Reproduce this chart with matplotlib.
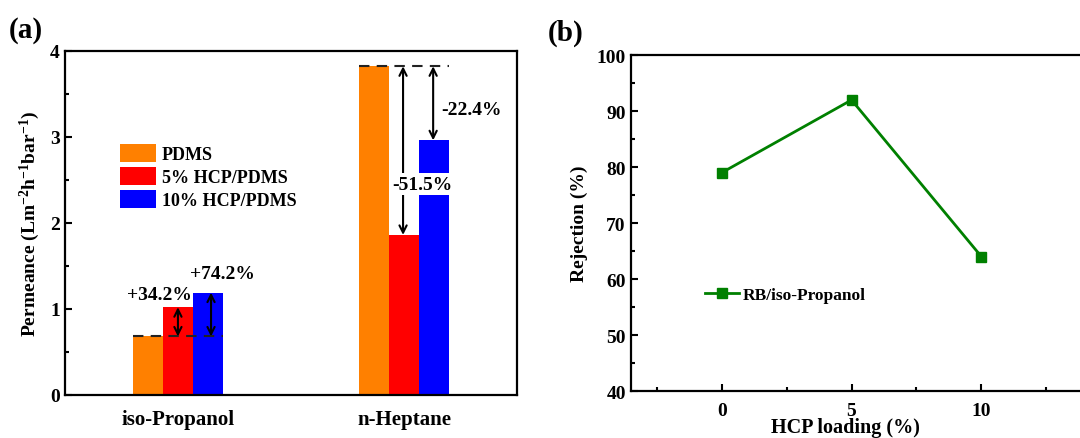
import numpy as np
import matplotlib.pyplot as plt
from matplotlib.patches import Patch

plt.rcParams['font.family'] = ['Liberation Serif', 'DejaVu Serif']
plt.rcParams['font.weight'] = 'bold'
plt.rcParams['axes.labelweight'] = 'bold'
plt.rcParams['mathtext.fontset'] = 'custom'
plt.rcParams['mathtext.rm'] = 'Liberation Serif:bold'
plt.rcParams['mathtext.bf'] = 'Liberation Serif:bold'
plt.rcParams['mathtext.default'] = 'bf'

# panel (a) data
solvents = ['iso-Propanol', 'n-Heptane']
membranes = ['PDMS', '5% HCP/PDMS', '10% HCP/PDMS']
permeance = {
    'PDMS': [0.68, 3.82],
    '5% HCP/PDMS': [1.02, 1.86],
    '10% HCP/PDMS': [1.19, 2.96],
}
bar_colors = ['#FF8000', '#FF0000', '#0000FF']
changes_iso = ['+34.2%', '+74.2%']
changes_hep = ['-51.5%', '-22.4%']

# panel (b) data
hcp_loading = [0, 5, 10]
rejection = [79, 92, 64]

fig = plt.figure(figsize=(10.8, 4.39), dpi=100)

# ---------- (a) ----------
ax = fig.add_axes([0.060, 0.098, 0.419, 0.784])
x = np.arange(1, len(solvents) + 1)
w = 0.133
for i, (m, c) in enumerate(zip(membranes, bar_colors)):
    ax.bar(x + (i - 1) * w, permeance[m], width=w, color=c, zorder=2)

base = permeance['PDMS']
# dashed reference lines
for j in range(2):
    ax.plot([x[j] - 1.5 * w, x[j] + 1.5 * w], [base[j], base[j]], ls=(0, (5, 3.5)),
            color='#222222', lw=1.5, zorder=3)

arrow = dict(arrowstyle='<->', lw=1.5, color='black', shrinkA=0, shrinkB=0, mutation_scale=13)
# iso-Propanol arrows
for i, m in enumerate(membranes[1:]):
    xa = x[0] + i * w + (0.0 if i == 0 else 0.1 * w)
    ax.annotate('', xy=(xa, permeance[m][0]), xytext=(xa, base[0]), arrowprops=arrow, zorder=4)
ax.text(x[0] - 0.08, 1.17, changes_iso[0], ha='center', va='center', fontsize=14, zorder=5)
ax.text(x[0] + 0.195, 1.41, changes_iso[1], ha='center', va='center', fontsize=14, zorder=5)

# n-Heptane arrows
ax.annotate('', xy=(x[1] - 0.005, permeance['5% HCP/PDMS'][1]), xytext=(x[1] - 0.005, base[1]),
            arrowprops=arrow, zorder=4)
ax.annotate('', xy=(x[1] + 0.128, permeance['10% HCP/PDMS'][1]), xytext=(x[1] + 0.128, base[1]),
            arrowprops=arrow, zorder=4)
ax.text(x[1] + 0.08, 2.45, changes_hep[0], ha='center', va='center', fontsize=14, zorder=6,
        bbox=dict(facecolor='white', edgecolor='none', pad=2))
ax.text(x[1] + 0.165, 3.32, changes_hep[1], ha='left', va='center', fontsize=14, zorder=6)

ax.set_xlim(0.5, 2.5)
ax.set_ylim(0, 4)
ax.set_xticks(x)
ax.set_xticklabels(solvents, fontsize=15)
ax.set_yticks([0, 1, 2, 3, 4])
ax.set_yticks([0.5, 1.5, 2.5, 3.5], minor=True)
ax.tick_params(axis='y', which='major', direction='in', length=5, width=1.5, labelsize=14)
ax.tick_params(axis='y', which='minor', direction='in', length=3, width=1.5)
ax.tick_params(axis='x', length=0, pad=10)
ax.set_ylabel('Permeance (Lm$^{-2}$h$^{-1}$bar$^{-1}$)', fontsize=14, labelpad=6)
for s in ax.spines.values():
    s.set_linewidth(1.6)

handles = [Patch(facecolor=c, edgecolor='none') for c in bar_colors]
ax.legend(handles, membranes, loc='upper left', bbox_to_anchor=(0.122, 0.728), frameon=False,
          fontsize=13, handlelength=2.0, handleheight=1.15, handletextpad=0.3, labelspacing=0.2,
          borderaxespad=0, borderpad=0)
fig.text(0.008, 0.93, '(a)', fontsize=21, ha='left', va='center')

# ---------- (b) ----------
bx = fig.add_axes([0.584, 0.107, 0.433, 0.765])
bx.plot(hcp_loading, rejection, color='#008000', lw=2, marker='s', ms=7.5,
        label='RB/iso-Propanol')
bx.set_xlim(-3.5, 14.5)
bx.set_ylim(40, 100)
bx.set_xticks(hcp_loading)
bx.set_xticks([-2.5, 2.5, 7.5, 12.5], minor=True)
bx.set_yticks(np.arange(40, 101, 10))
bx.set_yticks(np.arange(45, 100, 10), minor=True)
bx.tick_params(which='major', direction='in', length=5, width=1.5, labelsize=14)
bx.tick_params(which='minor', direction='in', length=3, width=1.5)
bx.tick_params(axis='x', pad=8)
bx.set_xlabel('HCP loading (%)', fontsize=14.5)
bx.xaxis.set_label_coords(0.46, -0.108, transform=bx.transAxes)
bx.xaxis.label.set_va('center')
bx.set_ylabel('Rejection (%)', fontsize=14, labelpad=6)
for s in bx.spines.values():
    s.set_linewidth(1.6)
bx.legend(loc='upper left', bbox_to_anchor=(0.143, 0.33), frameon=False, fontsize=12.5,
          handlelength=2.0, handletextpad=0.2, borderaxespad=0)
fig.text(0.507, 0.925, '(b)', fontsize=21, ha='left', va='center')

fig.savefig('out.png', dpi=100)
